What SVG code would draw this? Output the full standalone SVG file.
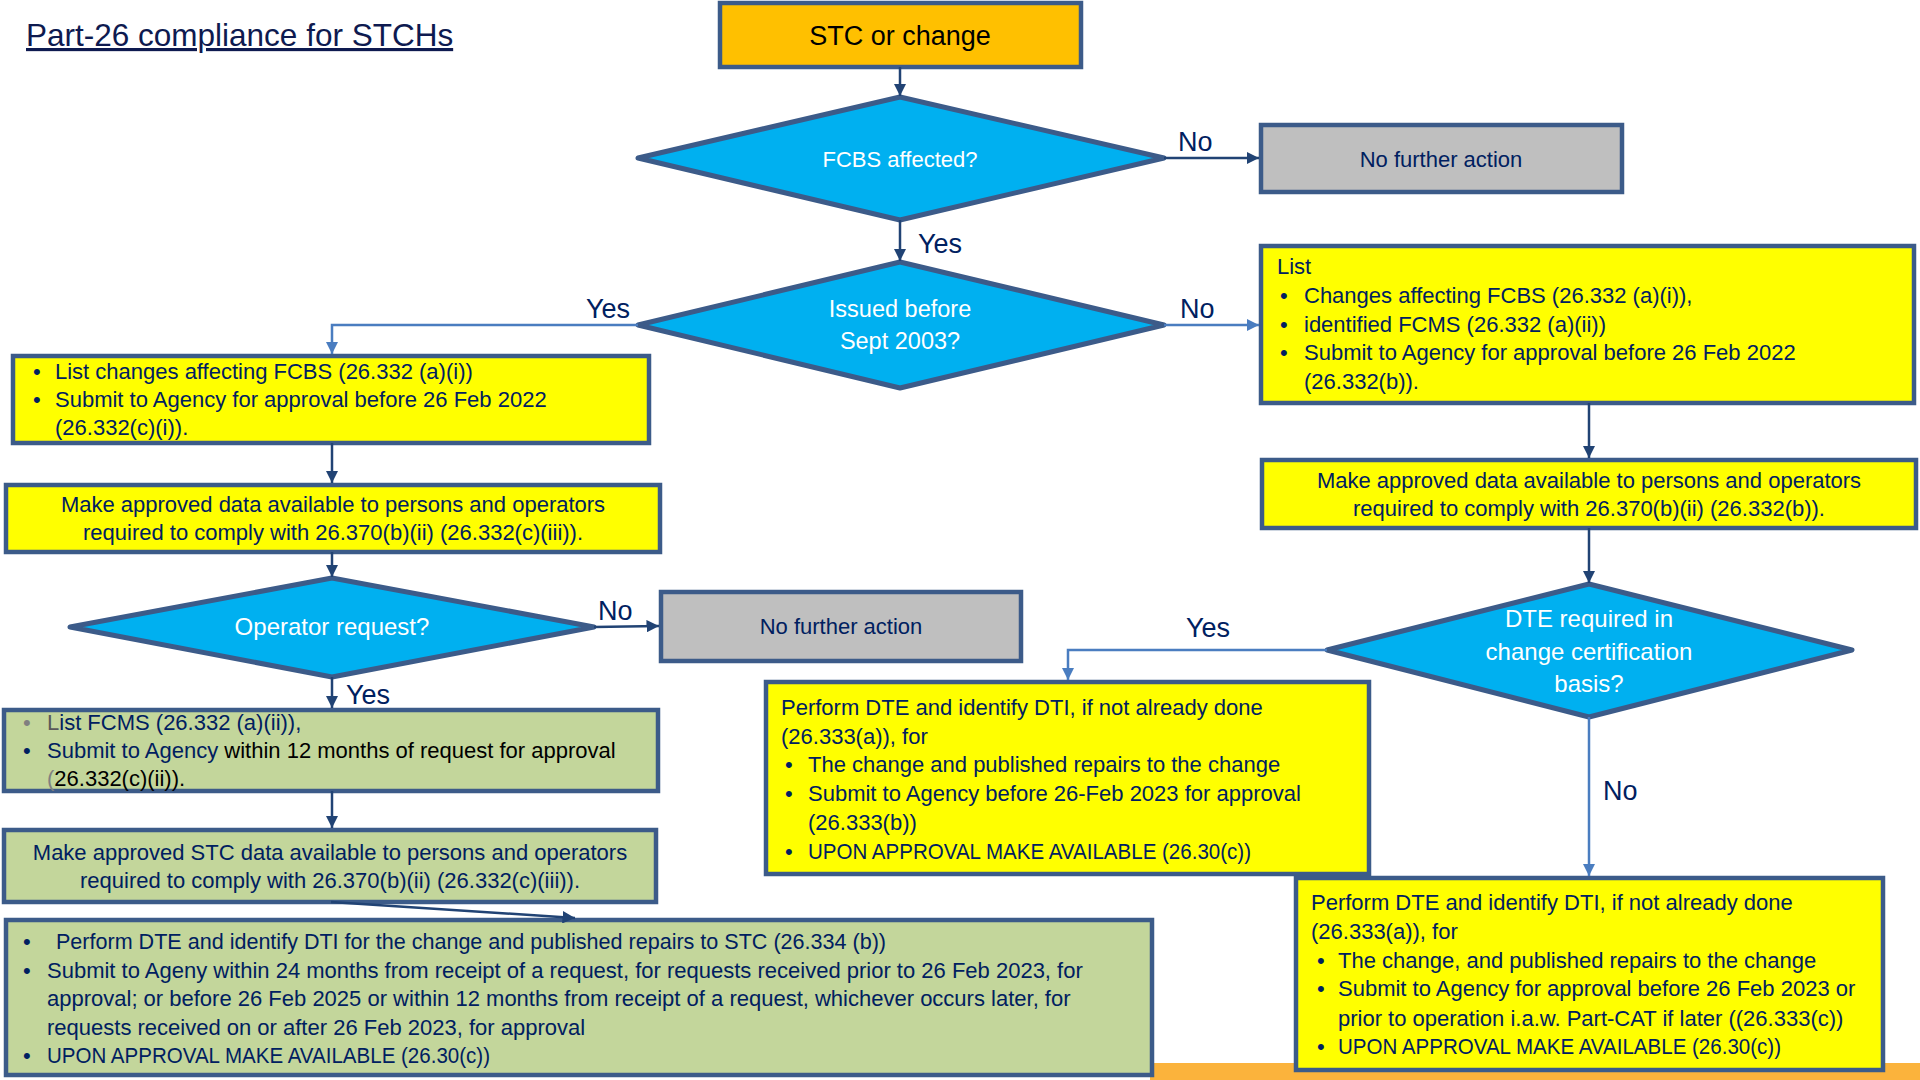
<svg xmlns="http://www.w3.org/2000/svg" width="1920" height="1080" viewBox="0 0 1920 1080">
<defs>
<style>
.t{font-family:"Liberation Sans",Arial,sans-serif;font-size:22px;fill:#002060}
.c{text-anchor:middle}
.w{fill:#ffffff}
.lbl{font-family:"Liberation Sans",Arial,sans-serif;font-size:27px;fill:#002060}
.box{stroke:#3C5B89;stroke-width:4.5}
.y{fill:#FFFF00}
.g{fill:#C3D69B}
.gr{fill:#BFBFBF}
.dia{fill:#00B0F0;stroke:#3C5B89;stroke-width:5;stroke-linejoin:round}
.dk{fill:none;stroke:#214374;stroke-width:2.5}
.lt{fill:none;stroke:#4A7DC0;stroke-width:2.5}
</style>
<marker id="ad" viewBox="0 0 10 10" refX="10" refY="5" markerWidth="5" markerHeight="5" orient="auto" markerUnits="strokeWidth"><path d="M0,0 L10,5 L0,10 Z" fill="#214374"/></marker>
<marker id="al" viewBox="0 0 10 10" refX="10" refY="5" markerWidth="5" markerHeight="5" orient="auto" markerUnits="strokeWidth"><path d="M0,0 L10,5 L0,10 Z" fill="#4A7DC0"/></marker>
</defs>
<rect x="0" y="0" width="1920" height="1080" fill="#ffffff"/>
<rect x="1150" y="1063" width="770" height="17" fill="#FBB33C"/>

<g id="title"><text x="26" y="46" font-family="Liberation Sans, Arial, sans-serif" font-size="31.5" fill="#0E1A50" text-decoration="underline">Part-26 compliance for STCHs</text></g>

<g id="stc"><rect class="box" x="720" y="3" width="361" height="64" fill="#FFC000"/><text class="t c" x="900" y="45" style="font-size:27px;fill:#000000">STC or change</text></g>

<g id="fcbs"><polygon class="dia" points="638,158 900,97 1164,158 900,220"/><text class="t c w" x="900" y="167">FCBS affected?</text></g>

<g id="nfa1"><rect class="box gr" x="1261" y="125" width="361" height="67"/><text class="t c" x="1441" y="167">No further action</text></g>

<g id="issued"><polygon class="dia" points="638,325 900,262 1164,325 900,388"/><text class="t c w" x="900" y="317" style="font-size:23.5px">Issued before</text><text class="t c w" x="900" y="349" style="font-size:23.5px">Sept 2003?</text></g>

<g id="rlist"><rect class="box y" x="1261" y="246" width="653" height="157"/>
<text class="t" x="1277" y="274">List</text>
<text class="t" x="1280" y="303">•</text><text class="t" x="1304" y="303">Changes affecting FCBS (26.332 (a)(i)),</text>
<text class="t" x="1280" y="332">•</text><text class="t" x="1304" y="332">identified FCMS (26.332 (a)(ii))</text>
<text class="t" x="1280" y="360">•</text><text class="t" x="1304" y="360">Submit to Agency for approval before 26 Feb 2022</text>
<text class="t" x="1304" y="389">(26.332(b)).</text></g>

<g id="rmake"><rect class="box y" x="1262" y="460" width="654" height="68"/>
<text class="t c" x="1589" y="488">Make approved data available to persons and operators</text>
<text class="t c" x="1589" y="516">required to comply with 26.370(b)(ii) (26.332(b)).</text></g>

<g id="dte"><polygon class="dia" points="1327,650 1589,584 1852,650 1589,717"/>
<text class="t c w" x="1589" y="627" style="font-size:24px">DTE required in</text>
<text class="t c w" x="1589" y="660" style="font-size:24px">change certification</text>
<text class="t c w" x="1589" y="692" style="font-size:24px">basis?</text></g>

<g id="lbox1"><rect class="box y" x="13" y="356" width="636" height="87"/>
<text class="t" x="33" y="379">•</text><text class="t" x="55" y="379">List changes affecting FCBS (26.332 (a)(i))</text>
<text class="t" x="33" y="407">•</text><text class="t" x="55" y="407">Submit to Agency for approval before 26 Feb 2022</text>
<text class="t" x="55" y="435">(26.332(c)(i)).</text></g>

<g id="lbox2"><rect class="box y" x="6" y="485" width="654" height="67"/>
<text class="t c" x="333" y="512">Make approved data available to persons and operators</text>
<text class="t c" x="333" y="540">required to comply with 26.370(b)(ii) (26.332(c)(iii)).</text></g>

<g id="operator"><polygon class="dia" points="70,627 332,578 594,627 332,677"/><text class="t c w" x="332" y="635" style="font-size:24px">Operator request?</text></g>

<g id="nfa2"><rect class="box gr" x="661" y="592" width="360" height="69"/><text class="t c" x="841" y="634">No further action</text></g>

<g id="gbox1"><rect class="box g" x="4" y="710" width="654" height="81"/>
<text class="t" x="23" y="730" style="fill:#808080">•</text><text class="t" x="47" y="730"><tspan style="fill:#595959">L</tspan>ist FCMS (26.332 (a)(ii)),</text>
<text class="t" x="23" y="758">•</text><text class="t" x="47" y="758">Submit to Agency<tspan style="fill:#000000"> within 12 months of request for approval</tspan></text>
<text class="t" x="47" y="786" style="fill:#000000"><tspan style="fill:#808080">(</tspan>26.332(c)(ii)).</text></g>

<g id="gbox2"><rect class="box g" x="4" y="830" width="652" height="72"/>
<text class="t c" x="330" y="860">Make approved STC data available to persons and operators</text>
<text class="t c" x="330" y="888">required to comply with 26.370(b)(ii) (26.332(c)(iii)).</text></g>

<g id="gbox3"><rect class="box g" x="6" y="920" width="1146" height="155"/>
<text class="t" x="23" y="949">•</text><text class="t" x="56" y="949" textLength="830" lengthAdjust="spacingAndGlyphs">Perform DTE and identify DTI for the change and published repairs to STC (26.334 (b))</text>
<text class="t" x="23" y="978">•</text><text class="t" x="47" y="978">Submit to Ageny within 24 months from receipt of a request, for requests received prior to 26 Feb 2023, for</text>
<text class="t" x="47" y="1006">approval; or before 26 Feb 2025 or within 12 months from receipt of a request, whichever occurs later, for</text>
<text class="t" x="47" y="1035">requests received on or after 26 Feb 2023, for approval</text>
<text class="t" x="23" y="1063">•</text><text class="t" x="47" y="1063" textLength="443" lengthAdjust="spacingAndGlyphs">UPON APPROVAL MAKE AVAILABLE (26.30(c))</text></g>

<g id="mbox"><rect class="box y" x="766" y="682" width="603" height="192"/>
<text class="t" x="781" y="715">Perform DTE and identify DTI, if not already done</text>
<text class="t" x="781" y="744">(26.333(a)), for</text>
<text class="t" x="785" y="772">•</text><text class="t" x="808" y="772">The change and published repairs to the change</text>
<text class="t" x="785" y="801">•</text><text class="t" x="808" y="801">Submit to Agency before 26-Feb 2023 for approval</text>
<text class="t" x="808" y="830">(26.333(b))</text>
<text class="t" x="785" y="859">•</text><text class="t" x="808" y="859" textLength="443" lengthAdjust="spacingAndGlyphs">UPON APPROVAL MAKE AVAILABLE (26.30(c))</text></g>

<g id="rbox3"><rect class="box y" x="1296" y="878" width="587" height="192"/>
<text class="t" x="1311" y="910">Perform DTE and identify DTI, if not already done</text>
<text class="t" x="1311" y="939">(26.333(a)), for</text>
<text class="t" x="1317" y="968">•</text><text class="t" x="1338" y="968">The change, and published repairs to the change</text>
<text class="t" x="1317" y="996">•</text><text class="t" x="1338" y="996">Submit to Agency for approval before 26 Feb 2023 or</text>
<text class="t" x="1338" y="1026">prior to operation i.a.w. Part-CAT if later ((26.333(c))</text>
<text class="t" x="1317" y="1054">•</text><text class="t" x="1338" y="1054" textLength="443" lengthAdjust="spacingAndGlyphs">UPON APPROVAL MAKE AVAILABLE (26.30(c))</text></g>

<g id="connectors">
<path class="dk" d="M900,67 L900,96" marker-end="url(#ad)"/>
<path class="dk" d="M1164,158 L1259,158" marker-end="url(#ad)"/>
<path class="dk" d="M900,220 L900,261" marker-end="url(#ad)"/>
<path class="lt" d="M1164,325 L1259,325" marker-end="url(#al)"/>
<path class="lt" d="M638,325 L332,325 L332,354" marker-end="url(#al)"/>
<path class="dk" d="M332,443 L332,483" marker-end="url(#ad)"/>
<path class="dk" d="M332,552 L332,577" marker-end="url(#ad)"/>
<path class="dk" d="M594,627 L659,626" marker-end="url(#ad)"/>
<path class="dk" d="M332,677 L332,708" marker-end="url(#ad)"/>
<path class="dk" d="M332,791 L332,828" marker-end="url(#ad)"/>
<path class="dk" d="M331,902 L575,918" marker-end="url(#ad)"/>
<path class="dk" d="M1589,403 L1589,458" marker-end="url(#ad)"/>
<path class="dk" d="M1589,528 L1589,583" marker-end="url(#ad)"/>
<path class="lt" d="M1327,650 L1068,650 L1068,680" marker-end="url(#al)"/>
<path class="lt" d="M1589,717 L1589,876" marker-end="url(#al)"/>
<text class="lbl" x="1178" y="151">No</text>
<text class="lbl" x="918" y="253">Yes</text>
<text class="lbl" x="1180" y="318">No</text>
<text class="lbl" x="586" y="318">Yes</text>
<text class="lbl" x="598" y="620">No</text>
<text class="lbl" x="346" y="704">Yes</text>
<text class="lbl" x="1186" y="637">Yes</text>
<text class="lbl" x="1603" y="800">No</text>
</g>
</svg>
